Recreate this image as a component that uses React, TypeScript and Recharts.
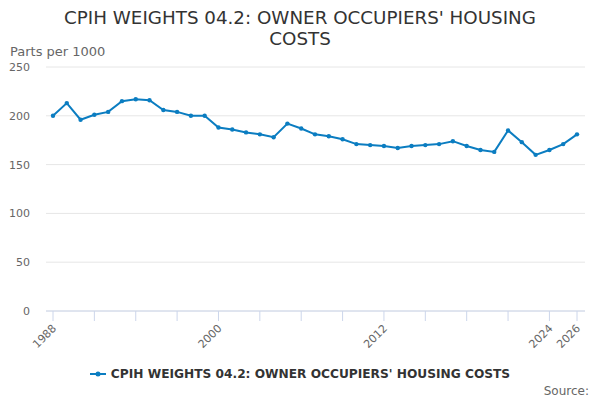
import React from "react";
import { LineChart, Line, XAxis, YAxis, CartesianGrid } from "recharts";

const years = [
  1988, 1989, 1990, 1991, 1992, 1993, 1994, 1995, 1996, 1997, 1998, 1999, 2000,
  2001, 2002, 2003, 2004, 2005, 2006, 2007, 2008, 2009, 2010, 2011, 2012, 2013,
  2014, 2015, 2016, 2017, 2018, 2019, 2020, 2021, 2022, 2023, 2024, 2025, 2026,
];
const weights = [
  200, 213, 196, 201, 204, 215, 217, 216, 206, 204, 200, 200, 188,
  186, 183, 181, 178, 192, 187, 181, 179, 176, 171, 170, 169, 167,
  169, 170, 171, 174, 169, 165, 163, 185, 173, 160, 165, 171, 181,
];
const xTicks = [1988, 1991, 1994, 1997, 2000, 2003, 2006, 2009, 2012, 2015, 2018, 2021, 2024, 2026];
const xLabels = [1988, 2000, 2012, 2024, 2026];
const yTicks = [0, 50, 100, 150, 200, 250];

const COLOR = "#0b7dc1";
const FONT = "DejaVu Sans, sans-serif";

const data = years.map((y, i) => ({ year: y, value: weights[i] }));

function XTick(props: any) {
  const { x, y, payload } = props;
  if (!xLabels.includes(payload.value)) return null;
  return (
    <text
      x={x + 4}
      y={y + 6}
      textAnchor="end"
      fill="#666"
      fontSize={11}
      fontFamily={FONT}
      transform={`rotate(-45, ${x + 4}, ${y + 6})`}
    >
      {payload.value}
    </text>
  );
}

export default function App() {
  return (
    <div style={{ position: "absolute", left: 0, top: 0, width: 600, height: 400, fontFamily: FONT, background: "#fff" }}>
      <div style={{ position: "absolute", top: 7, left: 0, width: 600, textAlign: "center", fontSize: 18.3, color: "#333", lineHeight: "21px" }}>
        <div>CPIH WEIGHTS 04.2: OWNER OCCUPIERS' HOUSING</div>
        <div>COSTS</div>
      </div>
      <div style={{ position: "absolute", top: 44, left: 10, fontSize: 13, color: "#666" }}>Parts per 1000</div>
      <LineChart width={600} height={400} data={data} margin={{ top: 67, right: 15, bottom: 59, left: 10 }}>
        <CartesianGrid vertical={false} stroke="#e6e6e6" />
        <XAxis
          dataKey="year"
          type="number"
          domain={[1988, 2026]}
          ticks={xTicks}
          interval={0}
          padding={{ left: 7, right: 8 }}
          stroke="#ccd6eb"
          tickSize={10}
          tick={<XTick />}
        />
        <YAxis
          width={36}
          domain={[0, 250]}
          ticks={yTicks}
          axisLine={false}
          tickLine={false}
          tickSize={0}
          tickMargin={16}
          tick={{ fill: "#666", fontSize: 11, fontFamily: FONT }}
        />
        <Line
          dataKey="value"
          stroke={COLOR}
          strokeWidth={2}
          dot={{ r: 2.2, fill: COLOR, stroke: COLOR, strokeWidth: 0 }}
          isAnimationActive={false}
        />
      </LineChart>
      <div style={{ position: "absolute", top: 367, left: 0, width: 600, display: "flex", justifyContent: "center", alignItems: "center", fontSize: 12.2, fontWeight: "bold", color: "#333" }}>
        <svg width={16} height={10} style={{ marginRight: 5 }}>
          <line x1={0} y1={5} x2={16} y2={5} stroke={COLOR} strokeWidth={2} />
          <circle cx={8} cy={5} r={2.5} fill={COLOR} />
        </svg>
        CPIH WEIGHTS 04.2: OWNER OCCUPIERS' HOUSING COSTS
      </div>
      <div style={{ position: "absolute", top: 384, right: 11, fontSize: 12, color: "#666" }}>Source:</div>
    </div>
  );
}
